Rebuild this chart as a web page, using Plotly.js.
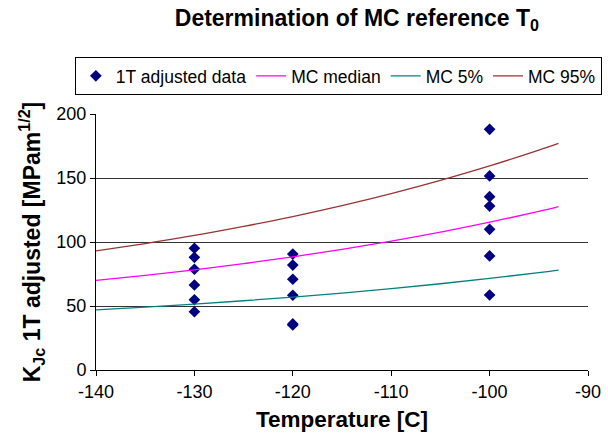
<!DOCTYPE html>
<html><head><meta charset="utf-8">
<script src="https://cdn.plot.ly/plotly-3.0.1.min.js"></script>
<style>html,body{margin:0;padding:0;background:#fff}#chart{width:608px;height:438px}</style>
</head><body><div id="chart"></div>
<script>
// Data
const dataTemp = [-130,-130,-130,-130,-130,-130,
                  -120,-120,-120,-120,-120,-120,
                  -100,-100,-100,-100,-100,-100,-100];
const dataK = [95.1,88.0,78.7,66.4,54.9,45.5,
               90.6,82.0,70.9,58.4,36.0,35.2,
               188.0,151.6,135.4,128.1,109.9,89.1,58.6];
const curveTemp = [-140,-135,-130,-125,-120,-115,-110,-105,-100,-95,-93];
const mcMedian = [70.0,74.0,78.3,83.1,88.4,94.3,100.7,107.7,115.5,123.9,127.6];
const mc5 = [47.0,49.1,51.5,54.1,57.0,60.1,63.6,67.4,71.6,76.1,78.1];
const mc95 = [93.0,98.8,105.1,112.2,119.9,128.4,137.8,148.1,159.4,171.8,177.1];
const xTicks = [-140,-130,-120,-110,-100,-90];
const yTicks = [0,50,100,150,200];

const font = 'Liberation Sans, Arial, sans-serif';
const traces = [
  {x: dataTemp, y: dataK, mode: 'markers', type: 'scatter', name: '1T adjusted data',
   marker: {symbol: 'diamond', size: 9, color: '#000080'}},
  {x: curveTemp, y: mcMedian, mode: 'lines', type: 'scatter', name: 'MC median',
   line: {color: '#FF00FF', width: 1.3, shape: 'spline'}},
  {x: curveTemp, y: mc5, mode: 'lines', type: 'scatter', name: 'MC 5%',
   line: {color: '#008080', width: 1.3, shape: 'spline'}},
  {x: curveTemp, y: mc95, mode: 'lines', type: 'scatter', name: 'MC 95%',
   line: {color: '#993333', width: 1.3, shape: 'spline'}}
];
const layout = {
  width: 608, height: 438,
  margin: {l: 96, r: 20, t: 114, b: 68},
  paper_bgcolor: '#fff', plot_bgcolor: '#fff',
  font: {family: font, size: 18, color: '#000'},
  title: {text: '<b>Determination of MC reference T<sub>0</sub></b>', x: 0.587, xanchor: 'center',
          y: 0.958, yanchor: 'middle', font: {family: font, size: 23, color: '#000'}},
  showlegend: true,
  legend: {orientation: 'h', x: -0.043, xanchor: 'left', y: 1.2227, yanchor: 'top',
           bordercolor: '#000', borderwidth: 1, bgcolor: '#fff',
           font: {family: font, size: 17.5, color: '#000'}, itemwidth: 30,
           tracegroupgap: 0},
  xaxis: {range: [-140, -90], tickvals: xTicks, ticktext: xTicks.map(String),
          showgrid: false, zeroline: false, showline: true, linecolor: '#000', linewidth: 1,
          ticks: 'outside', ticklen: 5, tickcolor: '#000',
          tickfont: {family: font, size: 18},
          title: {text: '<b>Temperature [C]</b>', font: {family: font, size: 22.5}, standoff: 10}},
  yaxis: {range: [0, 200], tickvals: yTicks, ticktext: yTicks.map(String),
          showgrid: true, gridcolor: '#333', gridwidth: 1,
          zeroline: false, showline: true, linecolor: '#000', linewidth: 1,
          ticks: 'outside', ticklen: 5, tickcolor: '#000',
          tickfont: {family: font, size: 18},
          title: {text: '<b>K<sub>Jc</sub> 1T adjusted [MPam<sup>1/2</sup>]</b>', font: {family: font, size: 23}, standoff: 9}}
};
Plotly.newPlot('chart', traces, layout, {displayModeBar: false, staticPlot: true});
</script></body></html>
